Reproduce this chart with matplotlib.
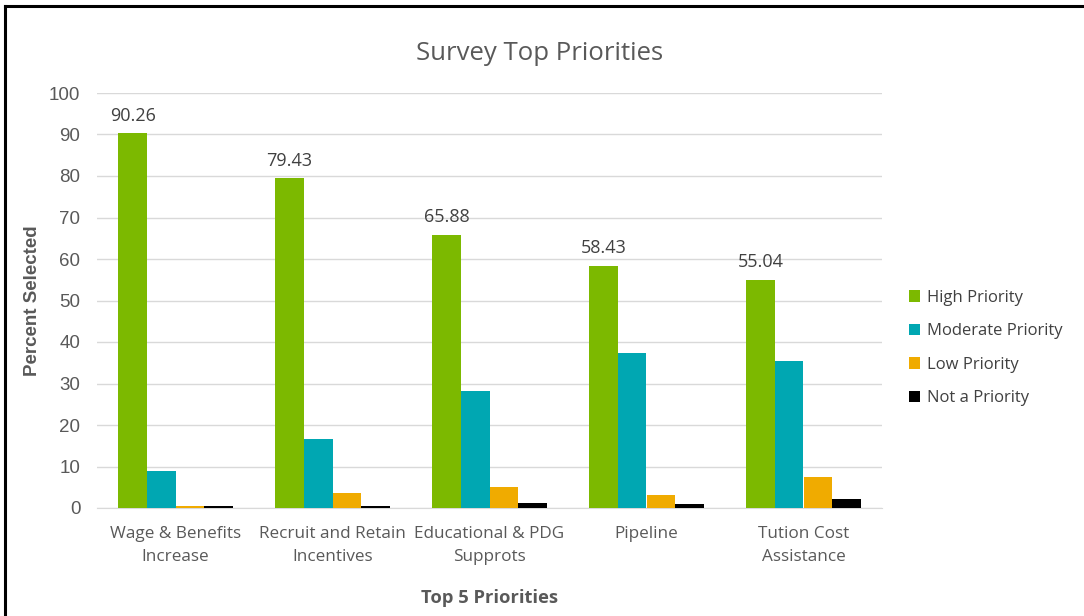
import matplotlib
matplotlib.use("Agg")
import matplotlib.pyplot as plt
import numpy as np
from matplotlib.lines import Line2D

categories = ["Wage & Benefits\nIncrease", "Recruit and Retain\nIncentives",
              "Educational & PDG\nSupprots", "Pipeline", "Tution Cost\nAssistance"]
series_names = ["High Priority", "Moderate Priority", "Low Priority", "Not a Priority"]
high = [90.26, 79.43, 65.88, 58.43, 55.04]
moderate = [8.9, 16.6, 28.2, 37.4, 35.5]
low = [0.5, 3.5, 5.0, 3.1, 7.4]
not_priority = [0.4, 0.5, 1.2, 0.9, 2.1]
colors = ["#7cb900", "#00a7b2", "#f0ab00", "#000000"]

fig = plt.figure(figsize=(10.84, 6.16), dpi=100)
ax = fig.add_axes([97 / 1084, 1 - 508 / 616, 785 / 1084, 415 / 616])

x = np.arange(len(categories))
w = 0.182
data = [high, moderate, low, not_priority]
for i, (vals, name, c) in enumerate(zip(data, series_names, colors)):
    bars = ax.bar(x + (i - 1.5) * w, vals, w, color=c, label=name, zorder=3)
    if i == 0:
        for b, v in zip(bars, vals):
            ax.text(b.get_x() + b.get_width() / 2, v + 2.0, f"{v:.2f}",
                    ha="center", va="bottom", fontsize=13, color="#404040",
                    family="Open Sans")

ax.set_xlim(-0.5, len(categories) - 0.5)
ax.set_ylim(0, 100)
ax.set_yticks(range(0, 101, 10))
ax.yaxis.grid(True, color="#d9d9d9", linewidth=1, zorder=0)
for s in ["top", "right", "left"]:
    ax.spines[s].set_visible(False)
ax.spines["bottom"].set_color("#d9d9d9")
ax.tick_params(axis="both", length=0)
ax.tick_params(axis="y", labelsize=13.5, labelcolor="#595959", pad=12)
ax.set_xticks(x)
ax.set_xticklabels(categories, fontsize=12.3, color="#595959", family="Open Sans",
                   linespacing=1.6)
ax.tick_params(axis="x", pad=13)
for t in ax.get_yticklabels():
    t.set_family("Liberation Sans")

ax.set_ylabel("Percent Selected", fontsize=13.5, fontweight="bold", color="#595959",
              family=["Liberation Sans Narrow", "Liberation Sans"], labelpad=6)
ax.set_xlabel("Top 5 Priorities", fontsize=13.2, fontweight="bold", color="#595959",
              family="Open Sans", labelpad=17)

fig.text(540 / 1084, 1 - 54 / 616, "Survey Top Priorities", ha="center", va="center",
         fontsize=18.5, color="#595959", family="Open Sans")

leg = ax.legend(loc="center left", bbox_to_anchor=(1.015, 0.385), frameon=False,
                handlelength=0.7, handleheight=0.7, handletextpad=0.4,
                labelspacing=1.05, prop={"family": "Open Sans", "size": 12})
for t in leg.get_texts():
    t.set_color("#404040")

# border of the pasted chart
fig.add_artist(Line2D([5 / 1084, 5 / 1084], [0, 1 - 6 / 616], color="black", lw=2.2))
fig.add_artist(Line2D([5 / 1084, 1], [1 - 6 / 616, 1 - 6 / 616], color="black", lw=2.2))

fig.savefig("out.png", dpi=100)
